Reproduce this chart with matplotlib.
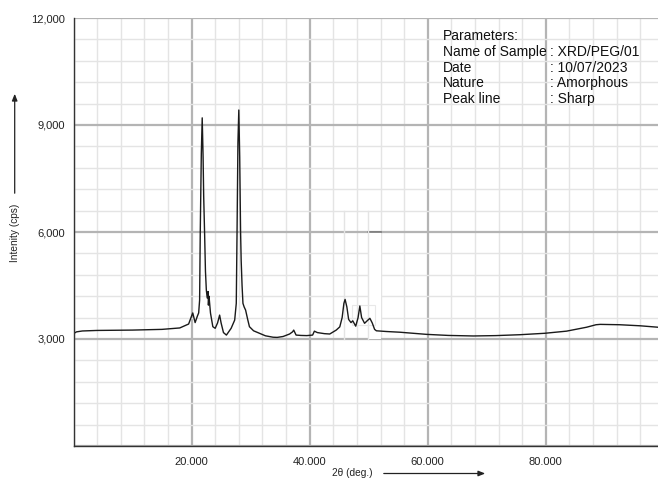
import numpy as np
import matplotlib
matplotlib.use("Agg")
import matplotlib.pyplot as plt
import matplotlib.patches as patches
from matplotlib.ticker import MultipleLocator, FuncFormatter

plt.rcParams['font.family'] = ['Liberation Sans', 'DejaVu Sans']

# 2theta (deg) and intensity (cps)
two_theta = [0.0, 0.5, 1.5, 4.0, 10.0, 15.0, 18.0, 19.5, 19.9, 20.2, 20.6, 21.0, 21.2, 21.36,
             21.47, 21.65, 21.8, 21.95, 22.05, 22.2, 22.35, 22.5, 22.65, 22.8, 22.85, 22.95,
             23.2, 23.6, 24.0, 24.4, 24.75, 25.0, 25.4, 25.9, 26.7, 27.3, 27.57, 27.7,
             27.85, 28.0, 28.15, 28.3, 28.4, 28.55, 28.7, 28.9, 29.15, 29.5, 29.8, 30.5,
             31.5, 32.5, 33.8, 34.5, 35.5, 36.6, 37.1, 37.3, 37.7, 38.5, 39.5, 40.5, 40.8,
             41.3, 42.5, 43.4, 44.5, 45.1, 45.5, 45.8, 46.0, 46.3, 46.6, 47.0, 47.3, 47.8,
             48.2, 48.5, 48.8, 49.3, 49.8, 50.2, 50.6, 51.0, 51.3, 53.0, 55.3, 59.8, 63.5,
             67.7, 71.5, 75.6, 79.8, 83.5, 86.9, 88.5, 89.2, 92.5, 96.0, 99.0]
intensity = [3150, 3200, 3225, 3240, 3250, 3270, 3310, 3420, 3600, 3730, 3460, 3650, 3730, 4090,
             6000, 8200, 9200, 8100, 7000, 6000, 4900, 4370, 4150, 4330, 3950, 4200,
             3730, 3345, 3300, 3450, 3670, 3450, 3180, 3110, 3300, 3530, 4000, 6000,
             8500, 9420, 8100, 6000, 5200, 4500, 4000, 3900, 3810, 3550, 3345, 3230,
             3160, 3090, 3050, 3045, 3070, 3140, 3200, 3250, 3110, 3100, 3095, 3110, 3220,
             3180, 3150, 3140, 3250, 3340, 3600, 4000, 4110, 3900, 3550, 3460, 3510, 3360,
             3600, 3925, 3600, 3440, 3520, 3580, 3450, 3270, 3230, 3210, 3190, 3130, 3100,
             3085, 3095, 3120, 3160, 3220, 3330, 3400, 3410, 3400, 3370, 3330]

param_keys = ["Name of Sample", "Date", "Nature", "Peak line"]
param_vals = [": XRD/PEG/01", ": 10/07/2023", ": Amorphous", ": Sharp"]

fig = plt.figure(figsize=(6.58, 4.87), dpi=100)
ax = fig.add_axes([73.5 / 658, 41 / 487, (658 - 73.5) / 658, 428 / 487])

ax.set_xlim(0, 99)
ax.set_ylim(0, 12000)
ax.set_axisbelow(True)

ax.xaxis.set_major_locator(MultipleLocator(20))
ax.xaxis.set_minor_locator(MultipleLocator(4))
ax.yaxis.set_major_locator(MultipleLocator(3000))
ax.yaxis.set_minor_locator(MultipleLocator(600))
ax.grid(which='minor', color='#e4e4e4', linewidth=1.0)
ax.grid(which='major', color='#b4b4b4', linewidth=1.6)

ax.xaxis.set_major_formatter(FuncFormatter(lambda v, p: "" if v == 0 else f"{v:.3f}"))
ax.yaxis.set_major_formatter(FuncFormatter(lambda v, p: "" if v == 0 else f"{v:,.0f}"))
ax.tick_params(which='both', length=0)
ax.tick_params(axis='x', pad=8, labelsize=8, labelcolor='#222222')
ax.tick_params(axis='y', pad=6, labelsize=8, labelcolor='#222222')

for s in ['top', 'right']:
    ax.spines[s].set_visible(False)
for s in ['left', 'bottom']:
    ax.spines[s].set_color('#333333')
    ax.spines[s].set_linewidth(1.0)

# leftover white patch / stray lines seen in the reference
ax.add_patch(patches.Rectangle((49.9, 3000), 2.1, 3000, facecolor='white', edgecolor='none', zorder=1))
ax.plot([49.9, 52.0], [6000, 6000], color='#777777', linewidth=1.2, zorder=1.1)
ax.plot([45.9, 45.9], [3000, 6600], color='#e4e4e4', linewidth=1.0, zorder=0.6)
ax.plot([49.9, 49.9], [3000, 6600], color='#e4e4e4', linewidth=1.0, zorder=1.1)
ax.add_patch(patches.Rectangle((47.1, 3380), 3.9, 570, facecolor='none', edgecolor='#e8e8e8',
                               linewidth=0.8, zorder=1.1))

ax.plot(two_theta, intensity, color='#1a1a1a', linewidth=1.0, zorder=2)

# parameter block
x0, x1 = 0.632, 0.815
rows = [0.9486, 0.912, 0.874, 0.838, 0.802]
ax.text(x0, rows[0], "Parameters:", transform=ax.transAxes, fontsize=10, va='baseline', color='#111111')
for k, v, y in zip(param_keys, param_vals, rows[1:]):
    ax.text(x0, y, k, transform=ax.transAxes, fontsize=10, va='baseline', color='#111111')
    ax.text(x1, y, v, transform=ax.transAxes, fontsize=10, va='baseline', color='#111111')

# axis labels with arrows
fig.text(14.7 / 658, 1 - 233 / 487, "Intenity (cps)", rotation=90, fontsize=7.3,
         ha='center', va='center', color='#222222')
fig.add_artist(patches.FancyArrowPatch((14.7 / 658, 1 - 196 / 487), (14.7 / 658, 1 - 91 / 487),
                                       transform=fig.transFigure, arrowstyle='-|>,head_length=4,head_width=1.6',
                                       color='#222222', linewidth=0.9, mutation_scale=1))
fig.text(352 / 658, 1 - 473.5 / 487, "2θ (deg.)", fontsize=7.3, ha='center', va='center', color='#222222')
fig.add_artist(patches.FancyArrowPatch((381 / 658, 1 - 473.5 / 487), (488 / 658, 1 - 473.5 / 487),
                                       transform=fig.transFigure, arrowstyle='-|>,head_length=4,head_width=1.6',
                                       color='#222222', linewidth=0.9, mutation_scale=1))

fig.savefig("out.png", dpi=100)
